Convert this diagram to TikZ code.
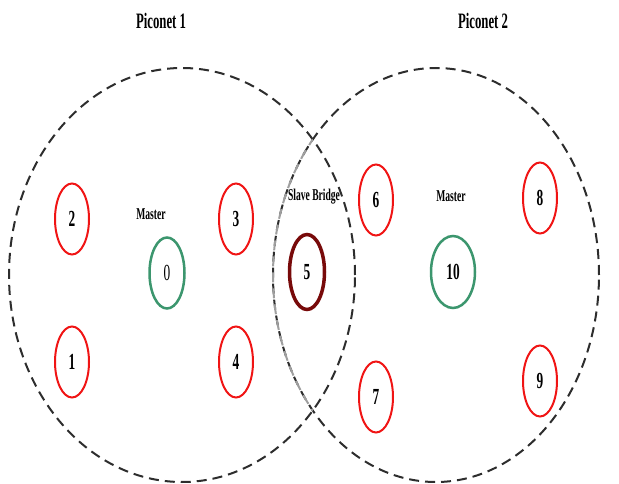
\documentclass[tikz,border=0pt]{standalone}
\usepackage{fontspec}
\setmainfont{Liberation Serif}
\usepackage{graphicx}
\usetikzlibrary{shapes.geometric}

% condensed lettering used for every label
\newcommand{\narrow}[1]{\scalebox{0.58}[1]{#1}}

\definecolor{devred}{RGB}{240,20,20}
\definecolor{mastergreen}{RGB}{60,150,110}
\definecolor{bridgered}{RGB}{120,10,10}
\definecolor{rangeline}{RGB}{45,45,45}

\tikzset{
  x=1pt, y=-1pt,
  coverage/.style={draw=rangeline, line width=2pt, dash pattern=on 10pt off 6pt,
    ellipse, inner sep=0pt},
  slavenode/.style={draw=devred, line width=2pt, ellipse, inner sep=0pt,
    minimum width=34pt, minimum height=71pt,
    font=\fontsize{23}{23}\selectfont\bfseries},
  masternode/.style={draw=mastergreen, line width=2.5pt, ellipse, inner sep=0pt,
    minimum width=35pt, minimum height=71pt,
    font=\fontsize{23}{23}\selectfont},
  bridgenode/.style={draw=bridgered, line width=3.5pt, ellipse, inner sep=0pt,
    minimum width=35pt, minimum height=75pt,
    font=\fontsize{23}{23}\selectfont\bfseries},
  headline/.style={font=\fontsize{22}{22}\selectfont\bfseries, inner sep=0pt},
  roletag/.style={font=\fontsize{16.5}{16.5}\selectfont\bfseries, inner sep=0pt},
}

\begin{document}
\begin{tikzpicture}
\useasboundingbox (0,0) rectangle (619,484);

% coverage areas of the two piconets
\node[coverage, minimum width=346pt, minimum height=414pt] (pico1) at (182,275) {};
\node[coverage, minimum width=326pt, minimum height=414pt] (pico2) at (436,275) {};
% part of the second area that lies inside the first one is drawn lighter
\begin{scope}
  \clip (182,275) ellipse [x radius=173, y radius=207];
  \draw[line width=2pt, dash pattern=on 10pt off 6pt, draw=gray!75]
    (436,275) ellipse [x radius=163, y radius=207];
\end{scope}

% titles
\node[headline] (t1) at (161,21) {\narrow{Piconet 1}};
\node[headline] (t2) at (483,21) {\narrow{Piconet 2}};

% piconet 1
\node[roletag] (m1) at (151,214) {\narrow{Master}};
\node[masternode] (n0) at (167,273) {\narrow{\mdseries 0}};
\node[slavenode] (n2) at (72,219) {\narrow{2}};
\node[slavenode] (n3) at (236,219) {\narrow{3}};
\node[slavenode] (n1) at (72,362) {\narrow{1}};
\node[slavenode] (n4) at (236,362) {\narrow{4}};

% bridge node shared by both piconets
\node[roletag] (sb) at (314,197) {\narrow{Slave Bridge}};
\node[bridgenode] (n5) at (307,272) {\narrow{5}};

% piconet 2
\node[roletag] (m2) at (451,196) {\narrow{Master}};
\node[masternode, minimum width=44pt, minimum height=72pt, font=\fontsize{23}{23}\selectfont\bfseries] (n10) at (453,272) {\narrow{10}};
\node[slavenode] (n6) at (376,200) {\narrow{6}};
\node[slavenode] (n8) at (540,198) {\narrow{8}};
\node[slavenode] (n7) at (376,397) {\narrow{7}};
\node[slavenode] (n9) at (540,381) {\narrow{9}};
\end{tikzpicture}
\end{document}
